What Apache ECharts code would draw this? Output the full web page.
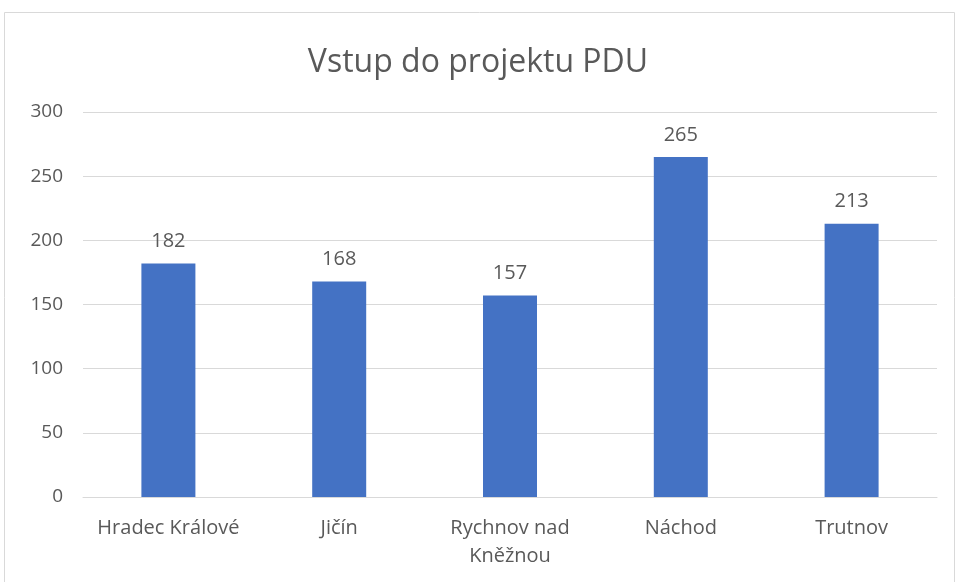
<!DOCTYPE html>
<html>
<head>
<meta charset="utf-8">
<script src="https://cdn.jsdelivr.net/npm/echarts@6/dist/echarts.min.js"></script>
<style>
  html, body { margin: 0; padding: 0; background: #fff; }
  #chart { width: 956px; height: 582px; }
</style>
</head>
<body>
<div id="chart"></div>
<script>
const categories = ["Hradec Králové", "Jičín", "Rychnov nad\nKněžnou", "Náchod", "Trutnov"];
const values = [182, 168, 157, 265, 213];
const yTicks = { min: 0, max: 300, interval: 50 };

const font = "'Open Sans', 'Noto Sans', sans-serif";
const textColor = "#595959";

const chart = echarts.init(document.getElementById("chart"));
chart.setOption({
  animation: false,
  backgroundColor: "#fff",
  graphic: [{
    type: "rect",
    shape: { x: 4.5, y: 12.5, width: 950, height: 580 },
    style: { fill: "none", stroke: "#d9d9d9", lineWidth: 1 },
  }],
  title: {
    text: "Vstup do projektu PDU",
    left: "center",
    top: 42,
    textStyle: { fontFamily: font, fontSize: 32, fontWeight: "normal", color: textColor },
  },
  grid: { left: 83, right: 19, top: 112, bottom: 85 },
  xAxis: {
    type: "category",
    data: categories,
    axisLine: { lineStyle: { color: "#d9d9d9", width: 1 } },
    axisTick: { show: false },
    axisLabel: {
      interval: 0,
      hideOverlap: false,
      color: textColor, fontFamily: font, fontSize: 20, margin: 17, lineHeight: 28,
    },
  },
  yAxis: {
    type: "value",
    min: yTicks.min,
    max: yTicks.max,
    interval: yTicks.interval,
    axisLine: { show: false },
    axisTick: { show: false },
    splitLine: { lineStyle: { color: "#d9d9d9", width: 1 } },
    axisLabel: { color: textColor, fontFamily: font, fontSize: 19, margin: 20 },
  },
  series: [{
    type: "bar",
    data: values,
    barWidth: 54,
    itemStyle: { color: "#4472C4" },
    label: {
      show: true,
      position: "top",
      distance: 12,
      color: textColor,
      fontFamily: font,
      fontSize: 20,
    },
  }],
});
</script>
</body>
</html>
